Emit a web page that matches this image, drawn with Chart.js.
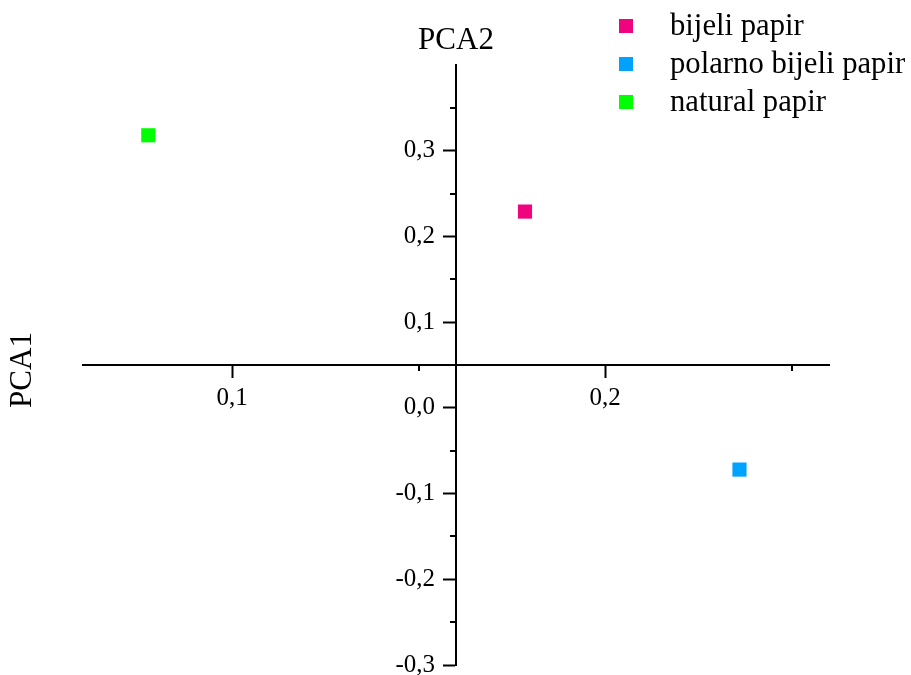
<!DOCTYPE html>
<html><head><meta charset="utf-8">
<script src="https://cdn.jsdelivr.net/npm/chart.js@4.4.1/dist/chart.umd.min.js"></script>
<style>html,body{margin:0;padding:0;background:#fff}</style>
</head><body><canvas id="c" width="911" height="675"></canvas>
<script>
// ---- data ----
const seriesNames = ['bijeli papir', 'polarno bijeli papir', 'natural papir'];
const seriesColors = ['#F0037F', '#00A2FF', '#00FF00'];
const pcaX = [0.1785, 0.236, 0.0775];
const pcaY = [0.229, -0.072, 0.318];
const xTicks = [0.1, 0.2];
const xMinorTicks = [0.15, 0.25];
const yTicks = [-0.3, -0.2, -0.1, 0.0, 0.1, 0.2, 0.3];
const yMinorTicks = [-0.25, -0.15, -0.05, 0.15, 0.25, 0.35];
const xRange = [0.06, 0.26];
const yRange = [-0.3, 0.4];
const xAxisAtY = 0.05;
const yAxisAtX = 0.16;
const horizontalAxisName = 'PCA1';
const verticalAxisName = 'PCA2';

const FONT = "'Liberation Serif', 'Times New Roman', serif";
const fmt = v => (Math.abs(v) < 1e-9 ? 0 : v).toFixed(1).replace('.', ',');

const datasets = seriesNames.map((name, i) => ({
  label: name,
  data: [{x: pcaX[i], y: pcaY[i]}],
  backgroundColor: seriesColors[i],
  borderColor: seriesColors[i],
  borderWidth: 0,
  pointStyle: 'rect',
  pointRadius: 10,
  pointHoverRadius: 10
}));

const decorPlugin = {
  id: 'decor',
  beforeDraw(chart) {
    // shift center-positioned y labels left of the tick marks
    const ys = chart.scales.y;
    const xs = chart.scales.x;
    const axisPx = xs.getPixelForValue(yAxisAtX);
    const items = ys.getLabelItems();
    items.forEach(it => {
      if (!it._shifted) {
        const tr = it.options.translation;
        if (Math.abs(tr[0] - axisPx) < 2) tr[0] = axisPx - 12 - 9;
        it._shifted = true;
      }
    });
  },
  afterDraw(chart) {
    const ctx = chart.ctx;
    const xs = chart.scales.x, ys = chart.scales.y;
    const axY = ys.getPixelForValue(xAxisAtY);
    const axX = xs.getPixelForValue(yAxisAtX);
    ctx.save();
    ctx.strokeStyle = '#000';
    ctx.lineWidth = 2;
    ctx.beginPath();
    xMinorTicks.forEach(v => {
      const px = Math.round(xs.getPixelForValue(v));
      ctx.moveTo(px, axY); ctx.lineTo(px, axY + 6);
    });
    yMinorTicks.forEach(v => {
      const py = Math.round(ys.getPixelForValue(v));
      ctx.moveTo(axX, py); ctx.lineTo(axX - 6, py);
    });
    ctx.stroke();

    // axis names
    ctx.fillStyle = '#000';
    ctx.font = '31px ' + FONT;
    ctx.textAlign = 'center';
    ctx.textBaseline = 'middle';
    ctx.fillText(verticalAxisName, axX, 41);
    ctx.save();
    ctx.translate(23, axY + 5);
    ctx.rotate(-Math.PI / 2);
    ctx.fillText(horizontalAxisName, 0, 0);
    ctx.restore();

    // legend
    ctx.font = '30.7px ' + FONT;
    ctx.textAlign = 'left';
    seriesNames.forEach((name, i) => {
      const cy = 26 + i * 38;
      ctx.fillStyle = seriesColors[i];
      ctx.fillRect(619, cy - 7, 14, 14);
      ctx.fillStyle = '#000';
      ctx.fillText(name, 670, cy + 1);
    });
    ctx.restore();
  }
};

const noPad = s => { s.paddingLeft = 0; s.paddingRight = 0; s.paddingTop = 0; s.paddingBottom = 0; };

new Chart(document.getElementById('c'), {
  type: 'scatter',
  data: {datasets},
  options: {
    responsive: false,
    animation: false,
    devicePixelRatio: 1,
    layout: {padding: {left: 83, right: 82, top: 65, bottom: 10}},
    plugins: {legend: {display: false}, tooltip: {enabled: false}, title: {display: false}},
    scales: {
      x: {
        type: 'linear',
        min: xRange[0], max: xRange[1],
        position: {y: xAxisAtY},
        afterBuildTicks: s => { s.ticks = xTicks.map(v => ({value: v})); },
        afterFit: s => { s.height = 0; noPad(s); },
        grid: {drawOnChartArea: false, drawTicks: true, tickLength: 12, tickWidth: 2, tickColor: '#000'},
        border: {display: true, color: '#000', width: 2},
        ticks: {color: '#000', padding: 6, maxRotation: 0, font: {family: FONT, size: 25}, callback: v => fmt(v)}
      },
      y: {
        type: 'linear',
        min: yRange[0], max: yRange[1],
        position: {x: yAxisAtX},
        afterBuildTicks: s => { s.ticks = yTicks.map(v => ({value: v})); },
        afterFit: s => { s.width = 0; noPad(s); },
        grid: {drawOnChartArea: false, drawTicks: true, tickLength: 12, tickWidth: 2, tickColor: '#000'},
        border: {display: true, color: '#000', width: 2},
        ticks: {color: '#000', padding: 9, font: {family: FONT, size: 25}, callback: v => fmt(v)}
      }
    }
  },
  plugins: [decorPlugin]
});
</script>
</body></html>
